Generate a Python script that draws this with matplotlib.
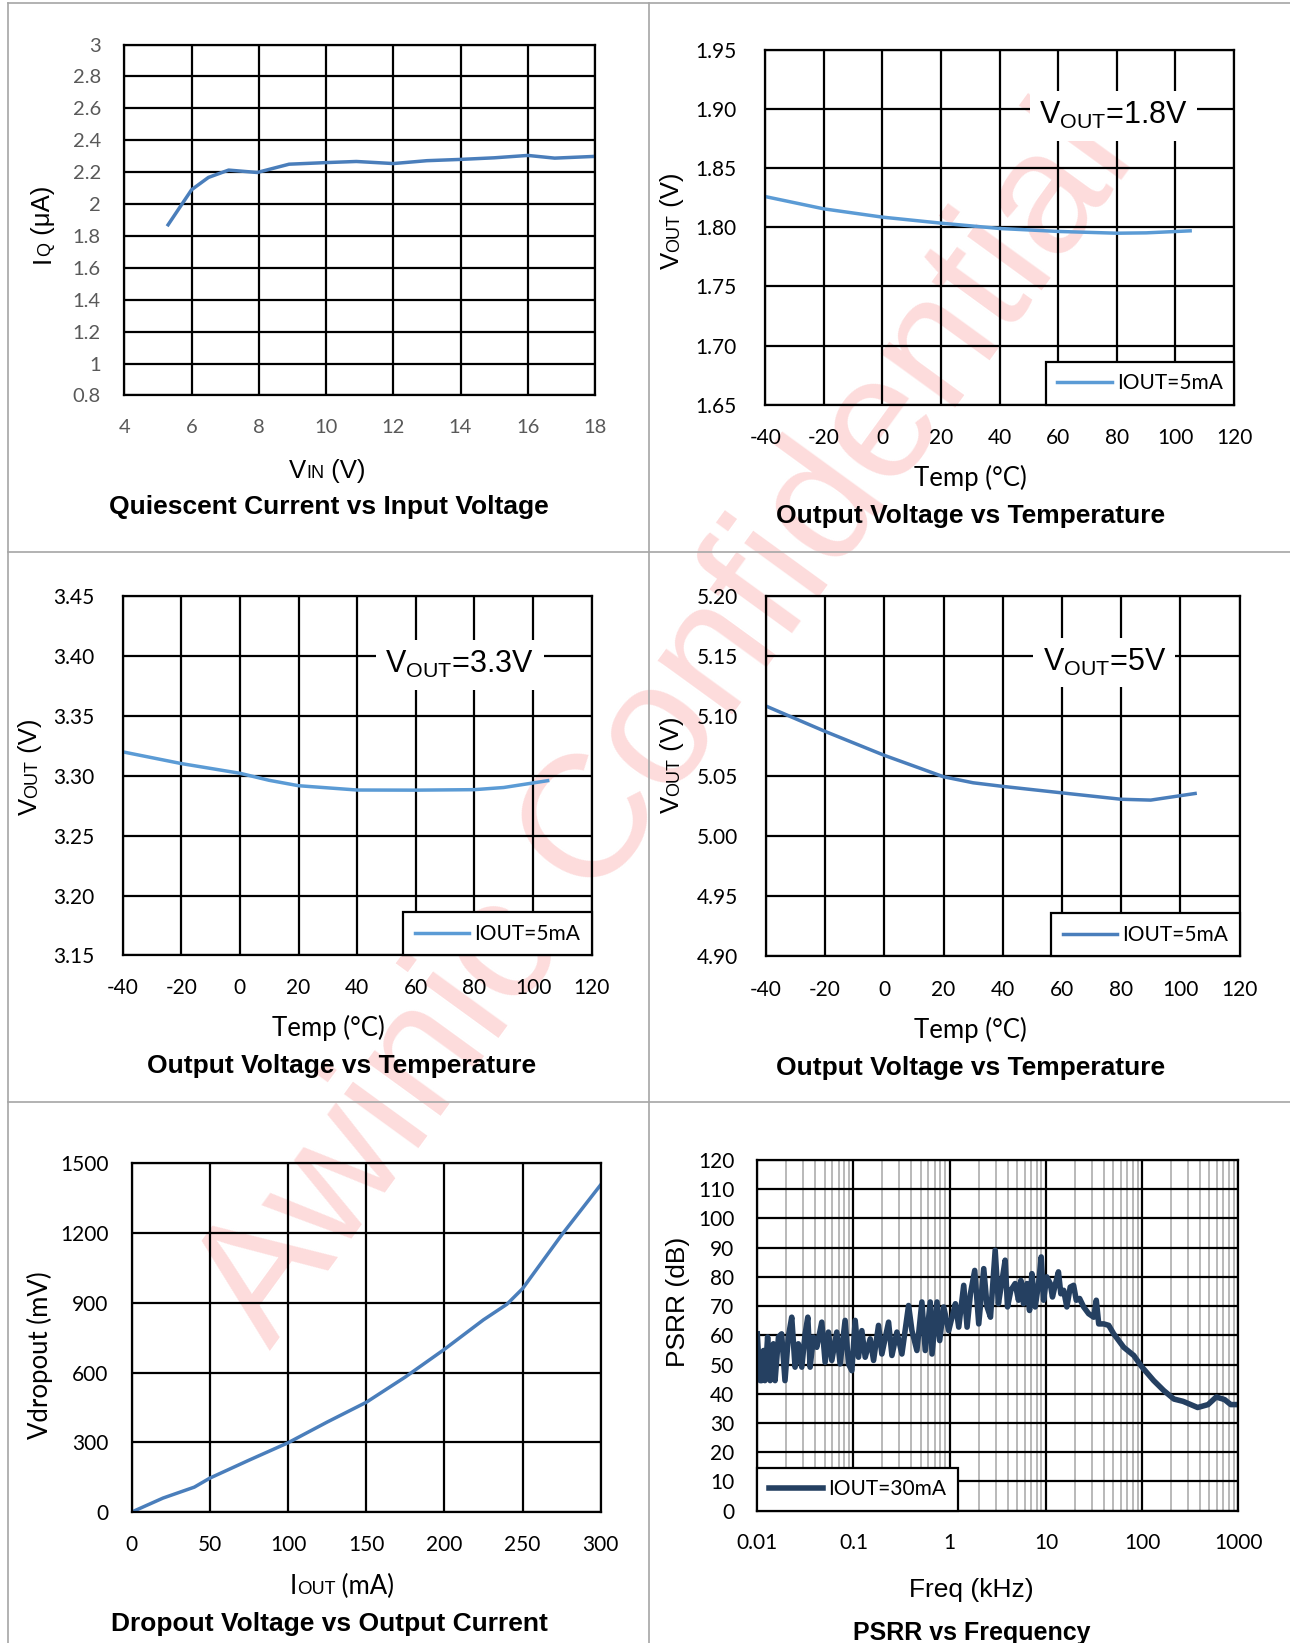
import matplotlib
matplotlib.use("Agg")
import matplotlib.pyplot as plt
from matplotlib.lines import Line2D
from matplotlib.ticker import (MultipleLocator, FormatStrFormatter, FuncFormatter,
                               LogLocator, NullFormatter)

plt.rcParams["font.family"] = "Lato"
plt.rcParams["mathtext.default"] = "regular"
plt.rcParams["axes.unicode_minus"] = False

W, H, DPI = 1290, 1643, 100
ARIAL = "Liberation Sans"
CALIBRI = "Lato"

# quiescent current vs input voltage
vin = [5.3, 6.0, 6.5, 7.1, 7.95, 8.9, 10.0, 10.9, 12.0, 13.0, 14.0, 15.0, 16.0, 16.8, 18.0]
iq = [1.87, 2.09, 2.167, 2.213, 2.198, 2.25, 2.26, 2.267, 2.254, 2.272, 2.28, 2.29, 2.305, 2.288, 2.299]

# output voltage vs temperature
temp_18 = [-40, -20, 0, 20, 40, 60, 80, 90, 105]
vout_18 = [1.826, 1.8156, 1.8086, 1.8035, 1.799, 1.7965, 1.795, 1.7953, 1.797]
temp_33 = [-40, -20, 0, 10, 20, 40, 60, 80, 90, 105]
vout_33 = [3.3201, 3.3103, 3.3022, 3.2963, 3.2918, 3.2882, 3.2881, 3.2885, 3.2903, 3.296]
temp_50 = [-40, -20, 0, 10, 20, 30, 40, 60, 80, 90, 105]
vout_50 = [5.1082, 5.0871, 5.0672, 5.0583, 5.0494, 5.0444, 5.0414, 5.036, 5.0307, 5.030, 5.0355]

# dropout voltage vs output current
iout = [0, 20, 40, 50, 75, 100, 125, 150, 175, 200, 225, 240, 250, 275, 300]
vdrop = [0, 60, 107, 146, 223, 298, 387, 472, 581, 700, 827, 894, 961, 1192, 1408]

# PSRR vs frequency (kHz, dB)
freq = [0.0100, 0.0104, 0.0107, 0.0111, 0.0116, 0.0120, 0.0128, 0.0136, 0.0147, 0.0153,
        0.0166, 0.0179, 0.0194, 0.0210, 0.0228, 0.0247, 0.0267, 0.0290, 0.0314, 0.0335,
        0.0354, 0.0383, 0.0415, 0.0468, 0.0507, 0.0549, 0.0595, 0.0670, 0.0726, 0.0818,
        0.0887, 0.0961, 0.1041, 0.1127, 0.1221, 0.1323, 0.1491, 0.1616, 0.1820, 0.1972,
        0.2315, 0.2508, 0.2826, 0.3184, 0.3737, 0.4049, 0.4562, 0.5140, 0.5569, 0.6276,
        0.6549, 0.7379, 0.7867, 0.866, 0.976, 1.057, 1.146, 1.241, 1.399, 1.516,
        1.642, 1.820, 2.004, 2.259, 2.448, 2.654, 2.97, 3.21, 3.48, 3.77,
        3.99, 4.32, 4.79, 5.19, 5.49, 5.85, 6.34, 6.76, 7.15, 7.74,
        8.39, 8.94, 9.46, 10.2, 11.1, 11.7, 12.7, 13.5, 14.3, 15.3,
        16.5, 17.9, 19.4, 20.7, 22.4, 24.7, 27.8, 31.4, 33.4, 35.4,
        39.9, 45.0, 50.7, 64.4, 81.9, 100, 132, 168, 214, 267,
        378, 485, 590, 721, 834, 1000]
psrr = [60.5, 50.0, 44.5, 44.5, 54.8, 44.5, 59.4, 44.5, 57.1, 44.5,
        59.4, 60.5, 44.5, 59.4, 66.2, 49.1, 57.1, 49.1, 60.5, 66.2,
        49.1, 59.4, 55.9, 64.5, 50.8, 61.1, 51.4, 61.1, 50.2, 65.1,
        50.2, 47.9, 65.1, 52.5, 61.6, 52.5, 58.8, 51.4, 63.4, 53.6,
        64.5, 53.1, 61.1, 53.6, 70.2, 61.6, 54.8, 71.4, 54.8, 71.4,
        53.6, 71.4, 58.2, 69.7, 61.6, 66.2, 70.8, 62.8, 77.1, 62.8,
        74.2, 82.2, 63.9, 82.8, 69.7, 66.2, 89.1, 70.8, 78.2, 85.7,
        69.7, 75.4, 77.7, 72.0, 78.8, 70.8, 77.7, 68.5, 81.1, 69.7,
        77.7, 86.8, 72.0, 80.0, 77.7, 73.1, 78.2, 81.7, 74.2, 75.4,
        69.7, 76.5, 77.1, 72.0, 72.6, 69.7, 67.4, 66.2, 72.0, 63.9,
        63.9, 63.4, 60.5, 55.9, 53.1, 49.1, 44.5, 41.1, 38.2, 37.4,
        35.3, 36.3, 38.9, 38.0, 36.3, 36.3]

fig = plt.figure(figsize=(W / DPI, H / DPI), dpi=DPI)
renderer = fig.canvas.get_renderer()


def px_axes(left, top, right, bottom):
    return fig.add_axes([left / W, 1 - bottom / H, (right - left) / W, (bottom - top) / H])


def put_text(x, y, s, **kw):
    return fig.text(x / W, 1 - y / H, s, **kw)


def rich_label(x, y, parts, family, rotation=0, weight="normal"):
    # pieces share one baseline (small caps look), label centred on (x, y)
    widths = []
    for s, fs in parts:
        t = fig.text(0, 0, s, fontsize=fs, family=family, weight=weight)
        widths.append(t.get_window_extent(renderer).width)
        t.remove()
    half_cap = 0.72 * max(fs for _, fs in parts) * DPI / 72 / 2
    pos = -sum(widths) / 2
    for (s, fs), w in zip(parts, widths):
        if rotation:
            bx, by = x + half_cap, y - pos
        else:
            bx, by = x + pos, y + half_cap
        put_text(bx, by, s, fontsize=fs, family=family, weight=weight, rotation=rotation,
                 rotation_mode="anchor", ha="left", va="baseline")
        pos += w


def style(ax, ypad, xpad, color="black", size=15):
    ax.set_facecolor("none")
    ax.grid(True, color="black", linewidth=1.6)
    ax.set_axisbelow(True)
    for sp in ax.spines.values():
        sp.set_linewidth(1.6)
    ax.tick_params(which="both", length=0, labelsize=size, labelcolor=color)
    ax.tick_params(axis="y", pad=ypad)
    ax.tick_params(axis="x", pad=xpad)


def legend(ax, label, loc, color, lw):
    leg = ax.legend([Line2D([], [], color=color, lw=lw)], [label], loc=loc,
                    borderaxespad=0, fancybox=False, edgecolor="black", framealpha=1,
                    fontsize=15, handlelength=2.6, handletextpad=0.25, borderpad=0.55)
    leg.get_frame().set_linewidth(1.6)


def vout_note(ax, x, y, text):
    ax.text(x, y, text, transform=ax.transAxes, family=ARIAL, fontsize=22,
            ha="center", va="center", zorder=5,
            bbox=dict(boxstyle="square,pad=0.3", fc="white", ec="none"))


# watermark behind everything
put_text(668, 728, "Awinic Confidential", family=ARIAL, fontsize=126, color="#FDDCDC",
         rotation=54, rotation_mode="anchor", ha="center", va="center", zorder=-10)

# cell borders
grey = "#A6A6A6"
for y in (3, 551.8, 1101.8):
    fig.add_artist(Line2D([7.5 / W, 1], [1 - y / H] * 2, transform=fig.transFigure,
                          color=grey, lw=1.2))
for x in (7.5, 649):
    fig.add_artist(Line2D([x / W] * 2, [1 - 3 / H, 0], transform=fig.transFigure,
                          color=grey, lw=1.2))

# 1: quiescent current
ax1 = px_axes(124.4, 44.6, 595, 395.4)
ax1.plot(vin, iq, color="#4A7EBB", lw=2.5)
ax1.set_xlim(4, 18)
ax1.set_ylim(0.8, 3)
ax1.xaxis.set_major_locator(MultipleLocator(2))
ax1.yaxis.set_major_locator(MultipleLocator(0.2))
ax1.yaxis.set_major_formatter(FuncFormatter(lambda v, p: "%g" % round(v, 2)))
style(ax1, 17, 17, color="#595959", size=14.5)
rich_label(40.4, 224, [("I", 18.5), ("Q", 13), (" (μA)", 18.5)], ARIAL, rotation=90)
rich_label(327.5, 469, [("V", 18.5), ("IN", 13), (" (V)", 18.5)], ARIAL)
rich_label(328.8, 504.5, [("Quiescent Current vs Input Voltage", 19)], ARIAL, weight="bold")

# 2: VOUT = 1.8 V
ax2 = px_axes(765.2, 50, 1234.1, 404.6)
ax2.plot(temp_18, vout_18, color="#5B9BD5", lw=2.5)
ax2.set_xlim(-40, 120)
ax2.set_ylim(1.65, 1.95)
ax2.xaxis.set_major_locator(MultipleLocator(20))
ax2.yaxis.set_major_locator(MultipleLocator(0.05))
ax2.yaxis.set_major_formatter(FormatStrFormatter("%.2f"))
style(ax2, 20.6, 16.5)
legend(ax2, "IOUT=5mA", "lower right", "#5B9BD5", 2.5)
vout_note(ax2, 0.7424, 0.8144, r"V$_{OUT}$=1.8V")
rich_label(670, 220.5, [("V", 18.5), ("OUT", 13), (" (V)", 18.5)], ARIAL, rotation=90)
rich_label(970.6, 476.8, [("Temp (°C)", 18.5)], CALIBRI)
rich_label(971, 513.2, [("Output Voltage vs Temperature", 19)], ARIAL, weight="bold")

# 3: VOUT = 3.3 V
ax3 = px_axes(122.7, 596.4, 591.6, 955.4)
ax3.plot(temp_33, vout_33, color="#5B9BD5", lw=2.5)
ax3.set_xlim(-40, 120)
ax3.set_ylim(3.15, 3.45)
ax3.xaxis.set_major_locator(MultipleLocator(20))
ax3.yaxis.set_major_locator(MultipleLocator(0.05))
ax3.yaxis.set_major_formatter(FormatStrFormatter("%.2f"))
style(ax3, 20.3, 16.5)
legend(ax3, "IOUT=5mA", "lower right", "#5B9BD5", 2.5)
vout_note(ax3, 0.7193, 0.8092, r"V$_{OUT}$=3.3V")
rich_label(28, 767, [("V", 18.5), ("OUT", 13), (" (V)", 18.5)], ARIAL, rotation=90)
rich_label(328.6, 1026.8, [("Temp (°C)", 18.5)], CALIBRI)
rich_label(342, 1063.2, [("Output Voltage vs Temperature", 19)], ARIAL, weight="bold")

# 4: VOUT = 5 V
ax4 = px_axes(766, 595.7, 1239.5, 956.4)
ax4.plot(temp_50, vout_50, color="#4A7EBB", lw=2.5)
ax4.set_xlim(-40, 120)
ax4.set_ylim(4.90, 5.20)
ax4.xaxis.set_major_locator(MultipleLocator(20))
ax4.yaxis.set_major_locator(MultipleLocator(0.05))
ax4.yaxis.set_major_formatter(FormatStrFormatter("%.2f"))
style(ax4, 19.9, 17.3)
legend(ax4, "IOUT=5mA", "lower right", "#4A7EBB", 2.5)
vout_note(ax4, 0.7145, 0.8148, r"V$_{OUT}$=5V")
rich_label(670, 765, [("V", 18.5), ("OUT", 13), (" (V)", 18.5)], ARIAL, rotation=90)
rich_label(970.6, 1028.6, [("Temp (°C)", 18.5)], CALIBRI)
rich_label(971, 1065, [("Output Voltage vs Temperature", 19)], ARIAL, weight="bold")

# 5: dropout
ax5 = px_axes(131.8, 1163.4, 600.7, 1512)
ax5.plot(iout, vdrop, color="#4A7EBB", lw=2.5)
ax5.set_xlim(0, 300)
ax5.set_ylim(0, 1500)
ax5.xaxis.set_major_locator(MultipleLocator(50))
ax5.yaxis.set_major_locator(MultipleLocator(300))
style(ax5, 16.7, 16.6)
rich_label(38.4, 1355, [("Vdropout (mV)", 18.5)], CALIBRI, rotation=90)
rich_label(342, 1584.7, [("I", 18.5), ("OUT", 13), (" (mA)", 18.5)], CALIBRI)
rich_label(329, 1621, [("Dropout Voltage vs Output Current", 19)], ARIAL, weight="bold")

# 6: PSRR
ax6 = px_axes(757.3, 1159.9, 1238.3, 1510.7)
ax6.plot(freq, psrr, color="#254061", lw=4, solid_joinstyle="round")
ax6.set_xscale("log")
ax6.set_xlim(0.01, 1000)
ax6.set_ylim(0, 120)
ax6.yaxis.set_major_locator(MultipleLocator(10))
ax6.xaxis.set_major_locator(LogLocator(base=10, numticks=10))
ax6.xaxis.set_minor_locator(LogLocator(base=10, subs=range(2, 10), numticks=100))
ax6.xaxis.set_minor_formatter(NullFormatter())
ax6.xaxis.set_major_formatter(FuncFormatter(lambda v, p: "%g" % v))
style(ax6, 16.4, 16.3)
ax6.grid(True, which="minor", axis="x", color="#A6A6A6", linewidth=1.1)
legend(ax6, "IOUT=30mA", "lower left", "#254061", 4)
rich_label(675.6, 1301.7, [("PSRR (dB)", 19)], ARIAL, rotation=90)
rich_label(971.3, 1588, [("Freq (kHz)", 19)], ARIAL)
rich_label(971.5, 1631, [("PSRR vs Frequency", 18)], ARIAL, weight="bold")

fig.savefig("out.png", dpi=DPI)
